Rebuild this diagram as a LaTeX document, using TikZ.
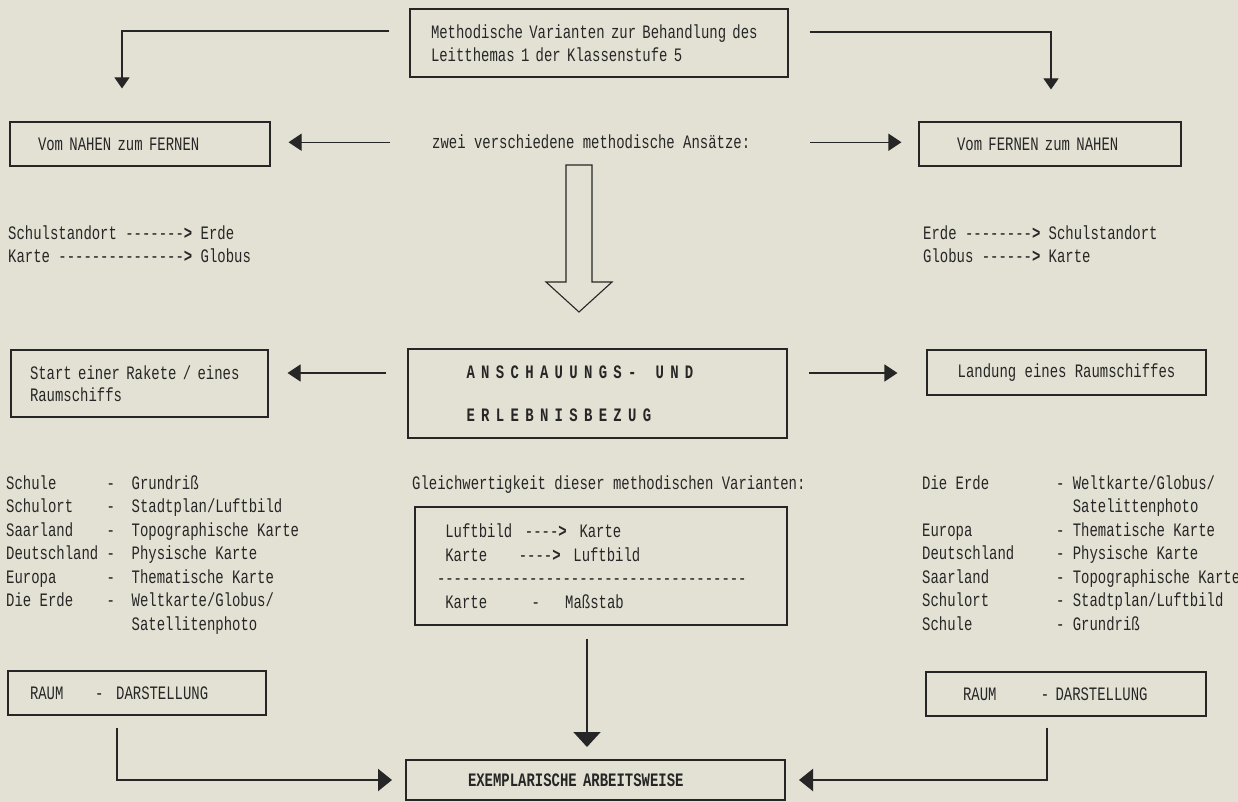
\documentclass[tikz,border=0pt]{standalone}
\usepackage{fontspec}
\setmonofont{Liberation Mono}[FakeStretch=0.734]
\usetikzlibrary{arrows.meta}
\definecolor{paper}{RGB}{227,225,212}
\definecolor{ink}{RGB}{38,38,38}
\begin{document}
\begin{tikzpicture}[x=1pt,y=-1pt,
  every node/.style={font=\ttfamily\fontsize{19}{23.5}\selectfont, text=ink, inner sep=0pt},
  bx/.style={draw=ink, line width=1.1pt, align=left},
  thickbx/.style={draw=ink, line width=2pt, align=left, font=\ttfamily\bfseries\fontsize{19}{23.5}\selectfont},
  txt/.style={anchor=base west, align=left},
  arr/.style={draw=ink, line width=1.1pt, -{Triangle[length=13pt,width=17pt]}},
  arrs/.style={draw=ink, line width=1.1pt, -{Triangle[length=11pt,width=15pt]}},
  arrb/.style={draw=ink, line width=2.2pt, -{Triangle[length=14pt,width=22pt]}},
  arrv/.style={draw=ink, line width=2pt, -{Triangle[length=15pt,width=27pt]}},
]
\fill[paper] (0,0) rectangle (1238,802);
\useasboundingbox (0,0) rectangle (1238,802);

% top row
\node[bx, text width=336pt, inner xsep=21pt, minimum height=68pt] (top) at (599,43)
  {Methodische Varianten zur Behandlung des\\Leitthemas 1 der Klassenstufe 5};
\node[bx, text width=204pt, inner xsep=28pt, minimum height=44pt] (nahen) at (140,144) {Vom NAHEN zum FERNEN};
\node[bx, text width=186pt, inner xsep=38pt, minimum height=44pt] (fernen) at (1050,144) {Vom FERNEN zum NAHEN};
\node[txt] (zwei) at (432,149) {zwei verschiedene methodische Ansätze:};

% multi-line text nodes: base anchor = baseline of the last line
\node[txt] (lpair) at (8,262.5) {Schulstandort -------\textbf{>} Erde\\Karte ---------------\textbf{>} Globus};
\node[txt] (rpair) at (923,262.5) {Erde --------\textbf{>} Schulstandort\\Globus ------\textbf{>} Karte};

% hollow arrow
\draw[ink, line width=1.1pt, fill=paper] (566,165) -- (592,165) -- (592,282) -- (612,282) -- (579,312) -- (546,282) -- (566,282) -- cycle;

% middle row
\node[bx, text width=219pt, inner xsep=19pt, minimum height=67pt] (start) at (139.5,383.5)
  {Start einer Rakete / eines\\[-2pt]Raumschiffs};
\node[thickbx, text width=262pt, inner xsep=58.5pt, minimum height=89pt] (anscha) at (597.5,393.5)
  {A N S C H A U U N G S -~~~U N D\\[19.5pt]E R L E B N I S B E Z U G};
\node[bx, align=center, minimum width=279pt, minimum height=45pt] (landung) at (1066.5,372.5) {Landung eines Raumschiffes};

% lists
\node[txt] (llist) at (6,630) {Schule~~~~~~-~~Grundriß\\
Schulort~~~~-~~Stadtplan/Luftbild\\
Saarland~~~~-~~Topographische Karte\\
Deutschland~-~~Physische Karte\\
Europa~~~~~~-~~Thematische Karte\\
Die Erde~~~~-~~Weltkarte/Globus/\\
\hphantom{xxxxxxxxxxxxxxx}Satellitenphoto};

\node[txt] (rlist) at (922,630) {Die Erde~~~~~~~~- Weltkarte/Globus/\\
\hphantom{xxxxxxxxxxxxxxxxxx}Satelittenphoto\\
Europa~~~~~~~~~~- Thematische Karte\\
Deutschland~~~~~- Physische Karte\\
Saarland~~~~~~~~- Topographische Karte\\
Schulort~~~~~~~~- Stadtplan/Luftbild\\
Schule~~~~~~~~~~- Grundriß};

\node[txt] (gltxt) at (412,489) {Gleichwertigkeit dieser methodischen Varianten:};
\node[bx, text width=328pt, inner xsep=22pt, minimum height=118pt] (gl) at (601,566)
  {\hphantom{x}Luftbild~~----\textbf{>}~~Karte\\
   \hphantom{x}Karte~~~~~----\textbf{>}~~Luftbild\\
   -------------------------------------\\
   \hphantom{x}Karte~~~~~~~-~~~~Maßstab};

% bottom row
\node[bx, text width=214pt, inner xsep=22pt, minimum height=44pt] (raumL) at (137,693) {RAUM~~~~~-~~DARSTELLUNG};
\node[bx, text width=206pt, inner xsep=37pt, minimum height=44pt] (raumR) at (1066,694) {RAUM~~~~~~~-~DARSTELLUNG};
\node[thickbx, text width=255pt, inner xsep=62pt, minimum height=40pt] (ex) at (595.5,780) {EXEMPLARISCHE ARBEITSWEISE};

% connectors
\draw[arrs, shorten <=20pt, shorten >=33pt] ([yshift=12pt]top.west) -| ([xshift=-18pt]nahen.north);
\draw[arrs, shorten <=21pt, shorten >=32pt] ([yshift=11pt]top.east) -| ([xshift=1pt]fernen.north);
\draw[arr, shorten <=42pt, shorten >=18pt] (zwei.west) -- (zwei.west -| nahen.east);
\draw[arr, shorten <=60pt, shorten >=17pt] (zwei.east) -- (zwei.east -| fernen.west);
\draw[arr, shorten <=21pt, shorten >=19pt] ([yshift=20.5pt]anscha.west) -- ([yshift=20.5pt]anscha.west -| start.east);
\draw[arr, shorten <=21pt, shorten >=29pt] ([yshift=20.5pt]anscha.east) -- ([yshift=20.5pt]anscha.east -| landung.west);
\draw[arrv, shorten <=13pt, shorten >=12pt] ([xshift=-14pt]gl.south) -- ([xshift=-14pt]gl.south |- ex.north);
\draw[arrb, shorten <=12pt, shorten >=13pt] ([xshift=-20pt]raumL.south) |- (ex.west);
\draw[arrb, shorten <=11pt, shorten >=13pt] ([xshift=-19pt]raumR.south) |- (ex.east);
\end{tikzpicture}
\end{document}
